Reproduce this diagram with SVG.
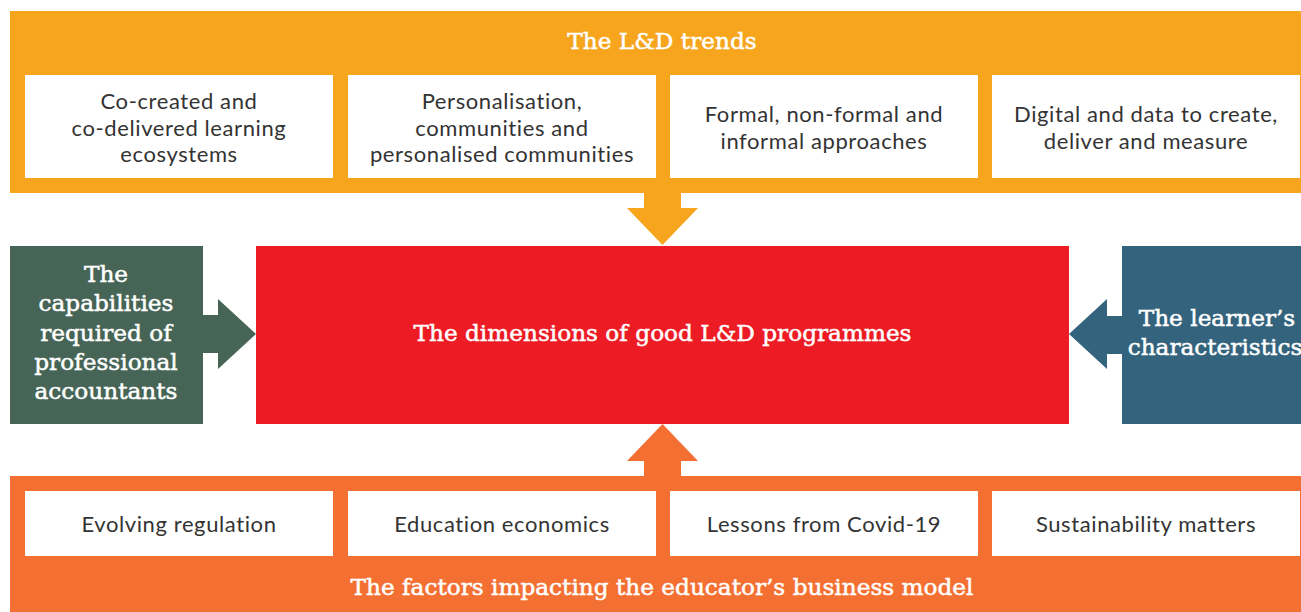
<svg xmlns="http://www.w3.org/2000/svg" width="1301" height="612" viewBox="0 0 1301 612">
<style>
.box{fill:#ffffff}
.body{font-family:Lato,"Noto Sans","Liberation Sans",sans-serif;font-size:22px;letter-spacing:0.6px;fill:#333333;text-anchor:middle}
.head{font-family:"DejaVu Serif","Liberation Serif",serif;font-size:23.2px;fill:#ffffff;stroke:#ffffff;stroke-width:0.5px;text-anchor:middle}
</style>
<rect width="1301" height="612" fill="#ffffff"/>
<g id="trends">
<rect x="10" y="11" width="1291" height="182" fill="#F6A51D"/>
<text class="head" x="662" y="49">The L&amp;D trends</text>
</g>
<g id="trend1"><rect class="box" x="25" y="75" width="308" height="103"/>
<text class="body" x="179" y="109">Co-created and</text><text class="body" x="179" y="135.5">co-delivered learning</text><text class="body" x="179" y="162">ecosystems</text></g>
<g id="trend2"><rect class="box" x="348" y="75" width="308" height="103"/>
<text class="body" x="502" y="109">Personalisation,</text><text class="body" x="502" y="135.5">communities and</text><text class="body" x="502" y="162">personalised communities</text></g>
<g id="trend3"><rect class="box" x="670" y="75" width="308" height="103"/>
<text class="body" x="824" y="122">Formal, non-formal and</text><text class="body" x="824" y="149">informal approaches</text></g>
<g id="trend4"><rect class="box" x="992" y="75" width="308" height="103"/>
<text class="body" x="1146" y="122">Digital and data to create,</text><text class="body" x="1146" y="149">deliver and measure</text></g>
<g id="capabilities">
<rect x="10" y="246" width="193" height="178" fill="#466557"/>
<text class="head" x="106" y="282">The</text><text class="head" x="106" y="311.3">capabilities</text><text class="head" x="106" y="340.6">required of</text><text class="head" x="106" y="369.9">professional</text><text class="head" x="106" y="399.2">accountants</text>
</g>
<g id="dimensions">
<rect x="256" y="246" width="813" height="178" fill="#ED1C24"/>
<text class="head" x="662.5" y="341">The dimensions of good L&amp;D programmes</text>
</g>
<g id="learner">
<rect x="1122" y="246" width="179" height="178" fill="#33637D"/>
<text class="head" x="1217" y="326">The learner’s</text><text class="head" x="1215" y="355">characteristics</text>
</g>
<g id="factors">
<rect x="10" y="476" width="1291" height="136" fill="#F37032"/>
<text class="head" x="662" y="595">The factors impacting the educator’s business model</text>
</g>
<g id="factor1"><rect class="box" x="25" y="491" width="308" height="65"/><text class="body" x="179" y="532">Evolving regulation</text></g>
<g id="factor2"><rect class="box" x="348" y="491" width="308" height="65"/><text class="body" x="502" y="532">Education economics</text></g>
<g id="factor3"><rect class="box" x="670" y="491" width="308" height="65"/><text class="body" x="824" y="532">Lessons from Covid-19</text></g>
<g id="factor4"><rect class="box" x="992" y="491" width="308" height="65"/><text class="body" x="1146" y="532">Sustainability matters</text></g>
<g id="connectors">
<polygon fill="#F6A51D" points="644,192 681,192 681,208 698,208 662.5,245 627,208 644,208"/>
<polygon fill="#F37032" points="644,477 681,477 681,461 698,461 662.5,424 627,461 644,461"/>
<polygon fill="#466557" points="202,315 218,315 218,299 256,334 218,369 218,353 202,353"/>
<polygon fill="#33637D" points="1123,316 1107,316 1107,299 1069,334 1107,369 1107,354 1123,354"/>
</g>
</svg>
